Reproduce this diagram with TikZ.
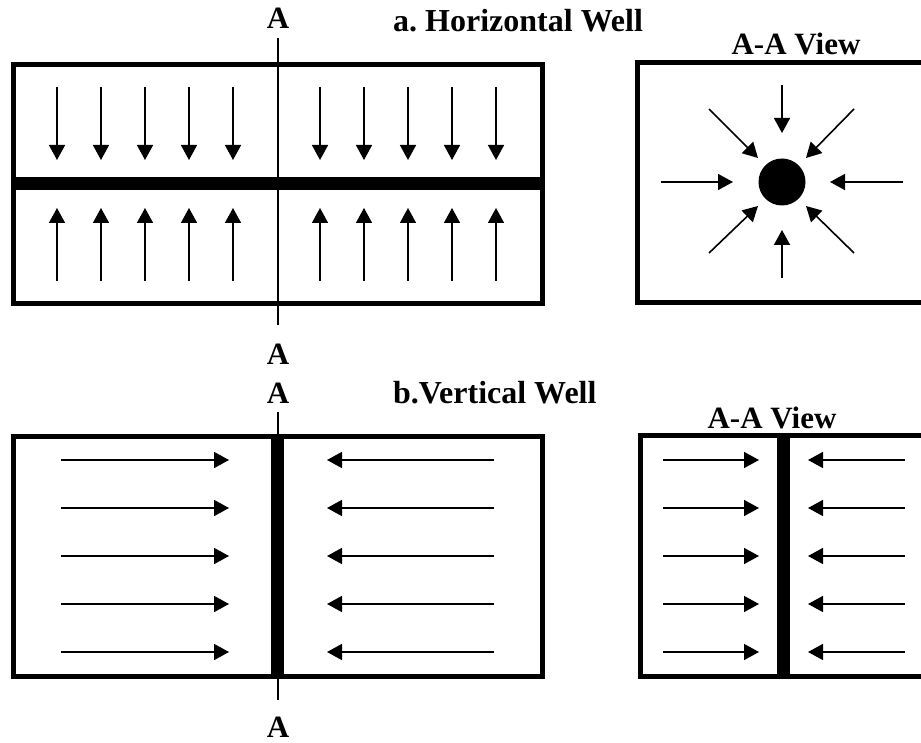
\documentclass[tikz,border=0pt]{standalone}
\usepackage{fontspec}
\setmainfont{Liberation Serif}
\usetikzlibrary{arrows.meta}
\frenchspacing
\begin{document}
\begin{tikzpicture}[x=1pt,y=-1pt,
  box/.style={line width=5pt},
  flow/.style={line width=1.6pt,-{Triangle[length=15pt,width=16pt]}},
  cut/.style={line width=1.5pt},
  lbl/.style={font=\fontsize{31}{36}\selectfont\bfseries, inner sep=0pt},
  ttl/.style={font=\fontsize{32}{38}\selectfont\bfseries, inner sep=0pt},
  wellbar/.style={fill=black}]
\useasboundingbox (0,0) rectangle (921,743);
\clip (0,0) rectangle (921,743);
% ---------- a. Horizontal well ----------
\draw[cut] (278,38) -- (278,325);
\draw[box] (13.5,64.5) rectangle (542.5,303.5);
\fill[wellbar] (13.5,177) rectangle (542.5,190);
\foreach \x in {57,101,145,189,233,320,364,408,452,496}{
  \draw[flow] (\x,87) -- (\x,160);
  \draw[flow] (\x,281) -- (\x,208);
}
\node[lbl,anchor=base] (atop) at (278,29) {A};
\node[lbl,anchor=base] (abot) at (278,364) {A};
\node[ttl,anchor=base west] (ta) at (393,32) {a. Horizontal Well};
% A-A view (horizontal)
\node[lbl,anchor=base] (va) at (796,55) {A-A View};
\draw[box] (637.5,62.5) rectangle (940,303);
\fill (782,182) circle (23.5);
\draw[flow] (782,85) -- (782,133);
\draw[flow] (782,278) -- (782,230);
\draw[flow] (661,182) -- (733,182);
\draw[flow] (903,182) -- (830,182);
\draw[flow] (709,109) -- (758,158);
\draw[flow] (854,109) -- (806,158);
\draw[flow] (709,253) -- (758,206);
\draw[flow] (854,253) -- (806,206);
% ---------- b. Vertical well ----------
\draw[cut] (278,412) -- (278,700);
\draw[box] (13.5,436.5) rectangle (542.5,676);
\fill[wellbar] (271,436.5) rectangle (284,676);
\foreach \y in {460,508,556,604,652}{
  \draw[flow] (61,\y) -- (229,\y);
  \draw[flow] (494,\y) -- (327,\y);
}
\node[lbl,anchor=base] (btop) at (278,403) {A};
\node[lbl,anchor=base] (bbot) at (278,737) {A};
\node[ttl,anchor=base west] (tb) at (393,403) {b.Vertical Well};
% A-A view (vertical)
\node[lbl,anchor=base] (vb) at (772,428) {A-A View};
\draw[box] (640,435.5) rectangle (940,676);
\fill[wellbar] (777,435.5) rectangle (790,676);
\foreach \y in {460,508,556,604,652}{
  \draw[flow] (663,\y) -- (759,\y);
  \draw[flow] (905,\y) -- (808,\y);
}
\end{tikzpicture}
\end{document}
